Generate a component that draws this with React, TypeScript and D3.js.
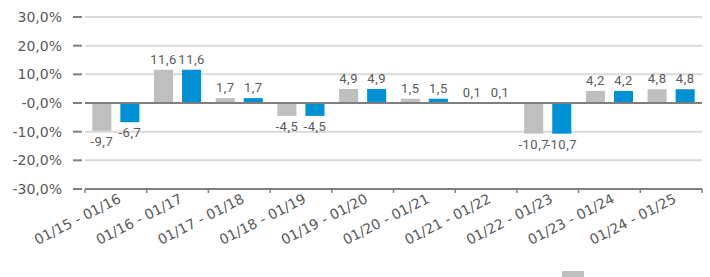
import React, { useEffect, useRef } from "react";
import * as d3 from "d3";

const categories = [
  "01/15 - 01/16",
  "01/16 - 01/17",
  "01/17 - 01/18",
  "01/18 - 01/19",
  "01/19 - 01/20",
  "01/20 - 01/21",
  "01/21 - 01/22",
  "01/22 - 01/23",
  "01/23 - 01/24",
  "01/24 - 01/25",
];
const grayValues = [-9.7, 11.6, 1.7, -4.5, 4.9, 1.5, 0.1, -10.7, 4.2, 4.8];
const blueValues = [-6.7, 11.6, 1.7, -4.5, 4.9, 1.5, 0.1, -10.7, 4.2, 4.8];
const yTicks = [30, 20, 10, 0, -10, -20, -30];

const series = [
  { key: "gray", values: grayValues, color: "#bfbfbf" },
  { key: "blue", values: blueValues, color: "#0090d4" },
];

const fmt = (v: number) => v.toFixed(1).replace(".", ",");

function App() {
  const svgRef = useRef<SVGSVGElement>(null);

  useEffect(() => {
    const svg = d3.select(svgRef.current);
    svg.selectAll("*").remove();
    const font = "'DejaVu Sans', sans-serif";
    const labelFont = "'Liberation Sans Narrow', Roboto, sans-serif";
    const textColor = "#595959";

    const x = d3.scaleBand().domain(categories).range([85, 702]);
    const y = d3.scaleLinear().domain([-30, 30]).range([189, 17]);
    const xs = d3
      .scaleBand()
      .domain(series.map((s) => s.key))
      .range([0, x.bandwidth()])
      .paddingInner(0.32)
      .paddingOuter(0.26);

    // gridlines
    svg
      .append("g")
      .selectAll("line")
      .data(yTicks.filter((t) => t !== 0 && t !== -30))
      .enter()
      .append("line")
      .attr("x1", 85)
      .attr("x2", 702)
      .attr("y1", (d) => y(d))
      .attr("y2", (d) => y(d))
      .attr("stroke", "#d9d9d9")
      .attr("stroke-width", 2);

    // left tick dashes + labels
    const yg = svg.append("g");
    yg.selectAll("line")
      .data(yTicks)
      .enter()
      .append("line")
      .attr("x1", 73)
      .attr("x2", 82)
      .attr("y1", (d) => y(d))
      .attr("y2", (d) => y(d))
      .attr("stroke", "#7f7f7f")
      .attr("stroke-width", 2);
    yg.selectAll("text")
      .data(yTicks)
      .enter()
      .append("text")
      .attr("x", 62)
      .attr("y", (d) => y(d) + 5)
      .attr("text-anchor", "end")
      .attr("font-family", font)
      .attr("font-size", 14)
      .attr("fill", textColor)
      .text((d) => (d === 0 ? "-0,0%" : fmt(d) + "%"));

    // bars
    series.forEach((s) => {
      const g = svg.append("g");
      g.selectAll("rect")
        .data(s.values)
        .enter()
        .append("rect")
        .attr("x", (_, i) => (x(categories[i]) as number) + (xs(s.key) as number))
        .attr("width", xs.bandwidth())
        .attr("y", (d) => y(Math.max(0, d)))
        .attr("height", (d) => Math.abs(y(d) - y(0)))
        .attr("fill", s.color);
      g.selectAll("text")
        .data(s.values)
        .enter()
        .append("text")
        .attr("x", (_, i) => (x(categories[i]) as number) + (xs(s.key) as number) + xs.bandwidth() / 2)
        .attr("y", (d) => (d >= 0 ? y(d) - 6 : y(d) + 15))
        .attr("text-anchor", "middle")
        .attr("font-family", labelFont)
        .attr("font-size", 13)
        .attr("letter-spacing", 0.5)
        .attr("fill", textColor)
        .text((d) => fmt(d));
    });

    // zero line
    svg
      .append("line")
      .attr("x1", 85)
      .attr("x2", 702)
      .attr("y1", y(0))
      .attr("y2", y(0))
      .attr("stroke", "#7f7f7f")
      .attr("stroke-width", 2);

    // bottom axis
    const bottom = y(-30);
    svg
      .append("line")
      .attr("x1", 85)
      .attr("x2", 702)
      .attr("y1", bottom)
      .attr("y2", bottom)
      .attr("stroke", "#7f7f7f")
      .attr("stroke-width", 2);
    svg
      .append("g")
      .selectAll("line")
      .data(categories.concat([""]))
      .enter()
      .append("line")
      .attr("x1", (_, i) => 85 + i * x.step())
      .attr("x2", (_, i) => 85 + i * x.step())
      .attr("y1", bottom)
      .attr("y2", bottom + 4)
      .attr("stroke", "#7f7f7f")
      .attr("stroke-width", 1.5);
    svg
      .append("g")
      .selectAll("text")
      .data(categories)
      .enter()
      .append("text")
      .attr(
        "transform",
        (d) => `translate(${(x(d) as number) + x.bandwidth() / 2 + 6},${bottom + 13}) rotate(-27)`
      )
      .attr("text-anchor", "end")
      .attr("font-family", font)
      .attr("font-size", 14)
      .attr("fill", textColor)
      .text((d) => d);

    // legend (partially visible)
    svg
      .append("rect")
      .attr("x", 562)
      .attr("y", 271)
      .attr("width", 22)
      .attr("height", 10)
      .attr("fill", series[0].color);
  }, []);

  return (
    <svg
      ref={svgRef}
      width={710}
      height={277}
      style={{ position: "absolute", left: 0, top: 0, background: "#fff" }}
    />
  );
}

export default App;
